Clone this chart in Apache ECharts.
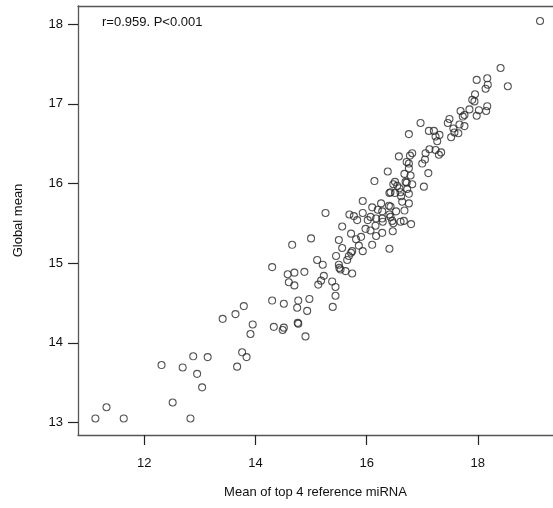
<!DOCTYPE html>
<html>
<head>
<meta charset="utf-8">
<script src="https://cdn.jsdelivr.net/npm/echarts@6/dist/echarts.min.js"></script>
<style>
  html, body { margin: 0; padding: 0; background: #fff; }
  #chart { width: 553px; height: 508px; }
</style>
</head>
<body>
<div id="chart"></div>
<script>
// Mean Ct of the top 4 reference miRNAs (x) versus the global mean (y), one pair per sample
const refMean = [
  11.12, 11.32, 11.63, 12.31, 12.51, 12.69, 12.83, 12.88, 12.95, 13.04,
  13.14, 13.41, 13.64, 13.67, 13.76, 13.79, 13.84, 13.91, 13.95, 14.30,
  14.33, 14.30, 14.66, 15.00, 15.26, 15.56, 14.58, 14.70, 14.88, 14.60,
  14.70, 14.51, 14.77, 14.75, 14.93, 14.97, 14.77, 14.76, 14.51, 14.49,
  14.90, 15.11, 15.21, 15.23, 15.18, 15.13, 15.38, 15.44, 15.44, 15.39,
  15.50, 15.45, 15.50, 15.51, 15.53, 15.62, 15.56, 15.65, 15.74, 15.72,
  15.68, 15.74, 15.72, 15.81, 15.90, 15.86, 15.93, 15.69, 15.77, 15.83,
  15.93, 15.93, 16.02, 15.98, 16.07, 16.07, 16.17, 16.16, 16.10, 16.20,
  16.26, 16.40, 16.28, 16.29, 16.17, 16.28, 16.10, 16.41, 16.47, 16.41,
  16.41, 16.51, 16.58, 16.38, 16.14, 16.53,
  19.12, 18.41, 18.54, 17.98, 18.17, 18.18, 18.14, 17.95, 17.90, 17.94,
  17.85, 18.02, 18.17, 18.15, 17.98, 17.69, 17.76, 17.73, 17.67, 17.76,
  17.49, 17.46, 17.56, 17.58, 17.65, 17.52, 16.97, 16.76, 17.12, 17.21,
  17.24, 17.31, 17.27, 17.13, 17.24, 17.34, 17.30, 17.06, 17.05, 17.00,
  17.11, 17.03, 16.82, 16.78, 16.72, 16.76, 16.68, 16.79, 16.48, 16.70,
  16.82, 16.59, 16.73, 16.43, 16.51, 16.76, 16.62,
  16.76, 16.55, 16.72, 16.61, 16.64, 16.76, 16.43, 16.68, 16.28, 16.43,
  16.46, 16.61, 16.67, 16.48, 16.80
];
const globalMean = [
  13.05, 13.19, 13.05, 13.72, 13.25, 13.69, 13.05, 13.83, 13.61, 13.44,
  13.82, 14.30, 14.36, 13.70, 13.88, 14.46, 13.82, 14.11, 14.23, 14.53,
  14.20, 14.95, 15.23, 15.31, 15.63, 15.46, 14.86, 14.88, 14.89, 14.76,
  14.72, 14.49, 14.53, 14.44, 14.40, 14.55, 14.24, 14.25, 14.19, 14.16,
  14.08, 15.04, 14.98, 14.84, 14.78, 14.73, 14.77, 14.70, 14.59, 14.45,
  15.29, 15.09, 14.98, 14.94, 14.92, 14.90, 15.19, 15.04, 15.15, 15.13,
  15.09, 14.87, 15.37, 15.30, 15.33, 15.22, 15.15, 15.61, 15.59, 15.54,
  15.63, 15.78, 15.54, 15.43, 15.41, 15.58, 15.56, 15.47, 15.70, 15.67,
  15.75, 15.72, 15.56, 15.52, 15.34, 15.38, 15.23, 15.18, 15.40, 15.61,
  15.88, 16.02, 16.34, 16.15, 16.03, 15.65,
  18.04, 17.45, 17.22, 17.30, 17.32, 17.24, 17.19, 17.12, 17.05, 17.03,
  16.93, 16.92, 16.97, 16.91, 16.85, 16.91, 16.86, 16.84, 16.74, 16.72,
  16.81, 16.76, 16.69, 16.64, 16.63, 16.58, 16.76, 16.62, 16.66, 16.66,
  16.59, 16.61, 16.53, 16.43, 16.42, 16.39, 16.36, 16.38, 16.30, 16.25,
  16.13, 15.96, 16.38, 16.35, 16.27, 16.25, 16.12, 16.10, 15.99, 16.02,
  15.99, 15.94, 15.93, 15.89, 15.88, 15.87, 15.84,
  16.19, 15.97, 16.01, 15.89, 15.77, 15.75, 15.71, 15.66, 15.65, 15.58,
  15.53, 15.52, 15.53, 15.50, 15.49
];
const xTicks = [12, 14, 16, 18];
const yTicks = [13, 14, 15, 16, 17, 18];
const statsText = 'r=0.959. P<0.001';

const points = refMean.map((x, i) => [x, globalMean[i]]);

const FONT = '"Liberation Sans", Arial, sans-serif';
const INK = '#111111';
const AXIS = '#555555';
const X_MIN = 10.807, X_MAX = 19.353;

const chart = echarts.init(document.getElementById('chart'), null, { renderer: 'canvas' });

// The plot frame is open on the right: left, bottom and top edges only.
chart.setOption({
  animation: false,
  backgroundColor: '#ffffff',
  grid: { left: 78, top: 6, right: 0, bottom: 73, show: false },
  xAxis: [{
    type: 'value',
    min: X_MIN, max: X_MAX,
    splitLine: { show: false },
    axisLine: { show: true, lineStyle: { color: AXIS, width: 1.3 } },
    axisTick: { show: true, inside: false, length: 10, customValues: xTicks, lineStyle: { color: '#222', width: 1.2 } },
    axisLabel: { customValues: xTicks, margin: 22, fontSize: 13, color: INK, fontFamily: FONT },
    name: 'Mean of top 4 reference miRNA',
    nameLocation: 'middle', nameGap: 51,
    nameTextStyle: { fontSize: 13, color: INK, fontFamily: FONT }
  }, {
    type: 'value',
    position: 'top',
    min: X_MIN, max: X_MAX,
    splitLine: { show: false },
    axisLine: { show: true, lineStyle: { color: AXIS, width: 1.3 } },
    axisTick: { show: false },
    axisLabel: { show: false }
  }],
  yAxis: {
    type: 'value',
    min: 12.842, max: 18.228,
    splitLine: { show: false },
    axisLine: { show: true, lineStyle: { color: AXIS, width: 1.3 } },
    axisTick: { show: true, inside: false, length: 10, customValues: yTicks, lineStyle: { color: '#222', width: 1.2 } },
    axisLabel: { customValues: yTicks, margin: 15, fontSize: 13, color: INK, fontFamily: FONT },
    name: 'Global mean',
    nameLocation: 'middle', nameGap: 53,
    nameTextStyle: { fontSize: 13, color: INK, fontFamily: FONT }
  },
  graphic: [{
    type: 'text',
    left: 102, top: 16,
    style: { text: statsText, fontSize: 13, fill: INK, fontFamily: FONT }
  }],
  series: [{
    type: 'scatter',
    xAxisIndex: 0,
    data: points,
    symbol: 'circle',
    symbolSize: 7,
    itemStyle: { color: 'rgba(255,255,255,0)', borderColor: '#2a2a2a', borderWidth: 1.1 },
    emphasis: { disabled: true }
  }]
});
</script>
</body>
</html>
